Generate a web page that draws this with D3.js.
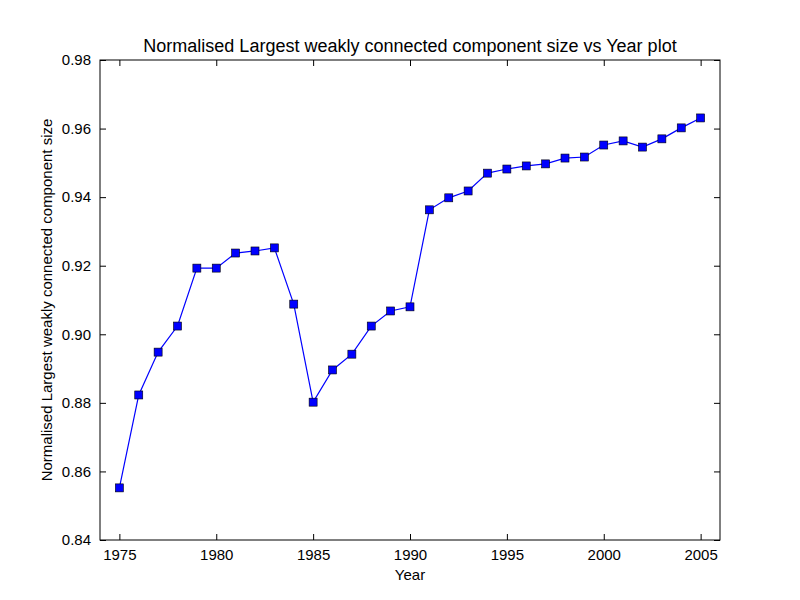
<!DOCTYPE html>
<html>
<head>
<meta charset="utf-8">
<script src="https://cdn.jsdelivr.net/npm/d3@7"></script>
<style>
body { margin: 0; background: #fff; }
text { font-family: "Liberation Sans", Arial, sans-serif; }
</style>
</head>
<body>
<script>
var years = d3.range(1975, 2006);
var values = [0.8552, 0.8823, 0.8948, 0.9024, 0.9193, 0.9193, 0.9237, 0.9243, 0.9252, 0.9088,
    0.8802, 0.8896, 0.8942, 0.9024, 0.9068, 0.9080, 0.9363, 0.9398, 0.9418, 0.9470,
    0.9482, 0.9491, 0.9497, 0.9514, 0.9517, 0.9552, 0.9564, 0.9546, 0.9570, 0.9602, 0.9631];
var xTicks = [1975, 1980, 1985, 1990, 1995, 2000, 2005];
var yTicks = [0.84, 0.86, 0.88, 0.90, 0.92, 0.94, 0.96, 0.98];

var padL = 100, padR = 720, padT = 60, padB = 540;

var svg = d3.select("body").append("svg").attr("width", 800).attr("height", 600);

var x = d3.scaleLinear().domain([1974, 2006]).range([padL, padR]);
var y = d3.scaleLinear().domain([0.84, 0.98]).range([padB, padT]);

function styleAxis(g) {
    g.select(".domain").remove();
    g.selectAll("line").attr("stroke", "#000");
    g.selectAll("text").attr("font-size", 15).attr("fill", "#000");
}

svg.append("g").attr("transform", "translate(0," + padB + ")")
    .call(d3.axisBottom(x).tickValues(xTicks).tickFormat(d3.format("d")).tickSizeInner(-6).tickSizeOuter(0).tickPadding(9))
    .call(styleAxis);
svg.append("g").attr("transform", "translate(0," + padT + ")")
    .call(d3.axisTop(x).tickValues(xTicks).tickFormat("").tickSizeInner(-6).tickSizeOuter(0))
    .call(styleAxis);
svg.append("g").attr("transform", "translate(" + padL + ",0)")
    .call(d3.axisLeft(y).tickValues(yTicks).tickFormat(d3.format(".2f")).tickSizeInner(-6).tickSizeOuter(0).tickPadding(9))
    .call(styleAxis);
svg.append("g").attr("transform", "translate(" + padR + ",0)")
    .call(d3.axisRight(y).tickValues(yTicks).tickFormat("").tickSizeInner(-6).tickSizeOuter(0))
    .call(styleAxis);

svg.append("rect").attr("x", padL).attr("y", padT).attr("width", padR - padL).attr("height", padB - padT)
    .attr("fill", "none").attr("stroke", "#000").attr("stroke-width", 1);

var line = d3.line().x(function (d, i) { return x(years[i]); }).y(function (d) { return y(d); });
svg.append("path").datum(values).attr("d", line).attr("fill", "none").attr("stroke", "#0000ff").attr("stroke-width", 1.2);

svg.selectAll(".pt").data(values).enter().append("rect")
    .attr("x", function (d, i) { return x(years[i]) - 4; })
    .attr("y", function (d) { return y(d) - 4; })
    .attr("width", 8).attr("height", 8)
    .attr("fill", "#0000ff").attr("stroke", "#000").attr("stroke-width", 0.6);

svg.append("text").attr("x", 410).attr("y", 52).attr("text-anchor", "middle").attr("font-size", 18)
    .text("Normalised Largest weakly connected component size vs Year plot");
svg.append("text").attr("x", 410).attr("y", 580).attr("text-anchor", "middle").attr("font-size", 15).text("Year");
svg.append("text").attr("transform", "translate(52,300) rotate(-90)").attr("text-anchor", "middle").attr("font-size", 15)
    .text("Normalised Largest weakly connected component size");
</script>
</body>
</html>
